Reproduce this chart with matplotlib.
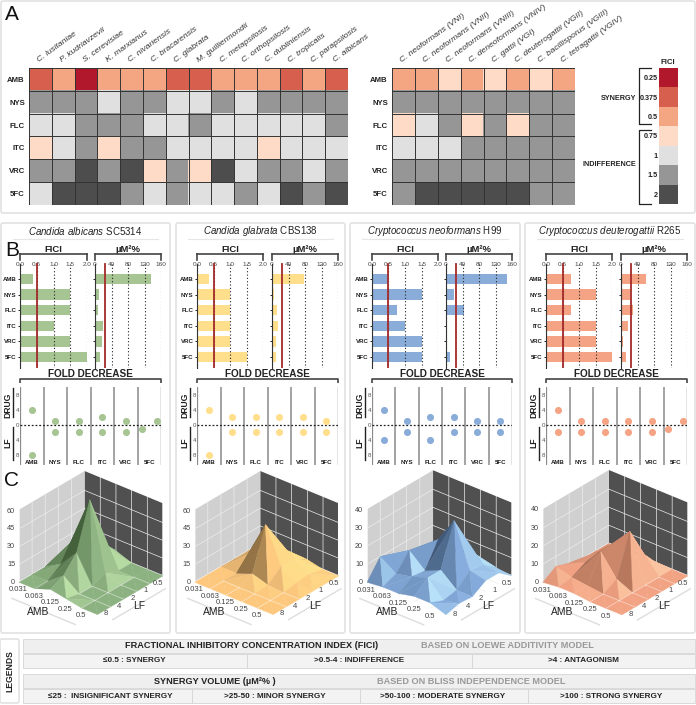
import numpy as np
import matplotlib
matplotlib.use("Agg")
import matplotlib.pyplot as plt
import matplotlib.tri as mtri
from matplotlib.colors import to_rgb
from matplotlib.patches import FancyBboxPatch, Rectangle
from mpl_toolkits.mplot3d import proj3d

plt.rcParams['font.family'] = ['Liberation Sans', 'DejaVu Sans']
plt.rcParams['mathtext.fontset'] = 'custom'
plt.rcParams['mathtext.rm'] = 'Liberation Sans'
plt.rcParams['mathtext.it'] = 'Liberation Sans:italic'
plt.rcParams['mathtext.bf'] = 'Liberation Sans:bold'

W, H = 696, 705

drugs = ['AMB', 'NYS', 'FLC', 'ITC', 'VRC', '5FC']

# panel A
species_left = ['C. lusitaniae', 'P. kudriavzevii', 'S. cerevisiae', 'K. marxianus', 'C. nivariensis',
                'C. bracarensis', 'C. glabrata', 'M. guilliermondii', 'C. metapsilosis', 'C. orthopsilosis',
                'C. dubliniensis', 'C. tropicalis', 'C. parapsilosis', 'C. albicans']
species_right = ['C. neoformans (VNI)', 'C. neoformans (VNII)', 'C. neoformans (VNIII)', 'C. deneoformans (VNIV)',
                 'C. gattii (VGI)', 'C. deuterogattii (VGII)', 'C. bacillisporus (VGIII)', 'C. tetragattii (VGIV)']
heat_left = [
    [.375, .5, .25, .5, .5, .5, .375, .375, .5, .5, .5, .375, .5, .375],
    [1.5, 1.5, 1.5, 1, 1.5, 1.5, 1, 1, 1.5, 1, 1.5, 1.5, 1.5, 1.5],
    [1, 1, 1.5, 1.5, 1.5, 1, 1, 1.5, 1, 1, 1, 1, 1, 1.5],
    [.75, 1, 1.5, .75, 1.5, 1.5, 1, 1, 1, 1, .75, 1, 1, 1],
    [1.5, 1.5, 2, 1.5, 2, .75, 1.5, .75, 2, 1, 1.5, 1.5, 1, 1.5],
    [1, 2, 2, 2, 1.5, 1, 1.5, 1, 1, 1.5, 1, 2, 1.5, 2],
]
heat_right = [
    [.5, .5, .75, .5, .75, .5, .75, .5],
    [1.5, 1.5, 1.5, 1.5, 1.5, 1.5, 1.5, 1.5],
    [.75, 1, 1.5, .75, 1.5, .75, 1.5, 1.5],
    [1, 1, 1, 1.5, 1.5, 1.5, 1.5, 1.5],
    [1.5, 1.5, 1.5, 1.5, 1.5, 1.5, 1.5, 1.5],
    [1.5, 2, 2, 2, 2, 2, 1.5, 1.5],
]
fici_levels = [.25, .375, .5, .75, 1, 1.5, 2]
fici_colors = ['#B2182B', '#D6604D', '#F4A582', '#FDDBC7', '#E0E0E0', '#969696', '#4D4D4D']

# panel B
titles = [r'$\it{Candida\ albicans}$ SC5314', r'$\it{Candida\ glabrata}$ CBS138',
          r'$\it{Cryptococcus\ neoformans}$ H99', r'$\it{Cryptococcus\ deuterogattii}$ R265']
fici_vals = [[.375, 1.5, 1.5, 1, 1.5, 2],
             [.375, 1, 1, 1, 1, 1.5],
             [.5, 1.5, .75, 1, 1.5, 1.5],
             [.75, 1.5, .75, 1.5, 1.5, 2]]
um_vals = [[135, 9, 7, 19, 18, 13],
           [78, 4, 13, 15, 9, 9],
           [149, 19, 44, 2, 1, 9],
           [61, 22, 29, 18, 5, 13]]
drug_fold = [[4, 1, 1, 2, 1, 1],
             [4, 2, 2, 2, 2, 1],
             [4, 1, 2, 2, 1, 1],
             [4, 1, 1, 1, 1, 1]]
lf_fold = [[8, 2, 2, 2, 2, 1],
           [8, 2, 2, 2, 2, 2],
           [4, 2, 4, 2, 2, 2],
           [2, 2, 2, 2, 2, 1]]
bar_colors = ['#A6C592', '#FFDE8C', '#8AACD8', '#F4A484']

# panel C, rows are LF steps (back to front), columns AMB steps
surf_green = [[0, 0, 5, 0, 0, 0],
              [0, 8, 18, 0, 0, 0],
              [0, 22, 61, 5, 0, 0],
              [0, 8, 23, 0, 0, 0],
              [0, 0, 10, 0, 0, 0],
              [0, 0, 5, 2.5, 0, 0]]
surf_yellow = [[0, 0, 3, 3, 0, 0],
               [0, 10, 15, 10, 3, 0],
               [0, 10, 40, 10, 2, 0],
               [0, 0, 5, 1, 0, 0],
               [0, 0, 0, 0, 0, 0],
               [0, 0, 0, 0, 0, 0]]
surf_blue = [[0, 2, 3, 3, 1, 0],
             [0, 7, 15, 12, 7, 6],
             [4, 6, 18, 32, 8, 6],
             [6, 12.7, 5, 9, 1.5, 1.5],
             [10, 4, 6, 9, 0, 2],
             [0, 1, 1, 3, 3, 0]]
surf_salmon = [[0, 0, 2, 0, 0, 0],
               [0, 5, 12, 8, 0, 0],
               [0, 7.6, 16, 26, 0, 0],
               [2, 5.8, 15.6, 4, 0, 0],
               [4.5, 2, 1, 0, 0, 0],
               [0, 1, 1, 0, 0, 0]]
surfaces = [surf_green, surf_yellow, surf_blue, surf_salmon]
z_ticks = [[0, 15, 30, 45, 60], [0, 15, 30, 45, 60], [0, 10, 20, 30, 40], [0, 10, 20, 30, 40]]
z_tops = [62, 62, 41, 41]
surf_cols = [('#3E5A36', '#8DB281', '#C9EEB2'),
             ('#6B5230', '#FDC87E', '#FFE98F'),
             ('#3A5270', '#86ADDE', '#C4EFFF'),
             ('#7A4A35', '#F2A383', '#FFD2AC')]
amb_labels = ['0.031', '0.063', '0.125', '0.25', '0.5']
lf_labels = ['0.5', '1', '2', '4', '8']

fig = plt.figure(figsize=(W / 100, H / 100), dpi=100)
bg = fig.add_axes([0, 0, 1, 1], zorder=-5)
bg.set_xlim(0, W)
bg.set_ylim(H, 0)
bg.axis('off')


def px_axes(x0, y0, x1, y1, **kw):
    return fig.add_axes([x0 / W, 1 - y1 / H, (x1 - x0) / W, (y1 - y0) / H], **kw)


def frame(x0, y0, x1, y1):
    bg.add_patch(FancyBboxPatch((x0 + 2, y0 + 2), x1 - x0 - 4, y1 - y0 - 4, boxstyle='round,pad=2',
                                fc='white', ec='#E2E2E2', lw=1.2))


def bracket(x0, x1, y, drop=4, col='#444444', lw=1.2):
    bg.plot([x0, x0, x1, x1], [y + drop, y, y, y + drop], color=col, lw=lw, solid_capstyle='butt')


def heat(values, names, x0, y0, x1, y1):
    ax = px_axes(x0, y0, x1, y1)
    vals = np.array(values)
    idx = np.searchsorted(fici_levels, vals)
    rgb = np.array([to_rgb(fici_colors[k]) for k in idx.ravel()]).reshape(vals.shape + (3,))
    ax.imshow(rgb, aspect='auto', interpolation='nearest')
    for k in range(vals.shape[1] + 1):
        ax.axvline(k - .5, color='#333333', lw=.7)
    for k in range(vals.shape[0] + 1):
        ax.axhline(k - .5, color='#333333', lw=.7)
    ax.set_xticks(range(len(names)))
    ax.set_xticklabels(names, rotation=36, ha='left', va='bottom', rotation_mode='anchor',
                       style='italic', fontsize=6.1, color='#333333')
    ax.set_yticks(range(6))
    ax.set_yticklabels(drugs, fontsize=5.6, fontweight='bold', color='#222222')
    ax.xaxis.tick_top()
    ax.tick_params(length=0, pad=3)
    for s in ax.spines.values():
        s.set_visible(False)


def bar_panel(vals, x0, x1, xmax, ticks, ticklabels, ref, col, label_rows, head):
    ax = px_axes(x0, 254, x1, 368)
    ax.barh(range(6), vals, height=.66, color=col)
    ax.set_xlim(0, xmax)
    ax.set_ylim(5.7, -1.6)
    ax.vlines(ticks, -.95, 5.7, color='#222222', lw=.8, linestyles=(0, (1, 2)))
    ax.plot([ref, ref], [-.95, 5.7], color='#A52A2A', lw=1.3)
    ax.plot([0, 0], [-1.6, -1.2], color='#444444', lw=1.2, clip_on=False)
    ax.plot([xmax, xmax], [-1.6, -1.2], color='#444444', lw=1.2, clip_on=False)
    ax.set_xticks(ticks)
    ax.set_xticklabels(ticklabels, fontsize=4.6, color='#444444')
    ax.xaxis.tick_top()
    ax.tick_params(axis='x', length=0, pad=-9.5)
    ax.set_yticks(range(6))
    if label_rows:
        ax.set_yticklabels(drugs, fontsize=4.4, fontweight='bold', color='#222222')
    else:
        ax.set_yticklabels([])
    ax.tick_params(axis='y', length=1.5, width=.6, pad=1)
    for k in ['right', 'bottom']:
        ax.spines[k].set_visible(False)
    ax.spines['top'].set_color('#444444')
    ax.spines['top'].set_linewidth(1.2)
    ax.spines['left'].set_bounds(5.7, -.95)
    ax.spines['left'].set_color('#333333')
    ax.spines['left'].set_linewidth(.8)
    ax.patch.set_alpha(0)
    bg.text((x0 + x1) / 2, 249, head, ha='center', va='center', fontsize=6.8, fontweight='bold', color='#222222')


def dot_panel(up, down, x0, x1, col, dodge):
    ax = px_axes(x0, 387, x1, 465)
    ax.set_xlim(0, 6)
    ax.set_ylim(-10.7, 10.1)
    for k in range(1, 6):
        ax.axvline(k, color='#8A8A8A', lw=1.1)
    ax.axvline(0, color='#8A8A8A', lw=.9)
    ax.axvline(6, color='#333333', lw=.9)
    ax.axhline(0, color='#222222', lw=.9, ls=(0, (1.5, 1.5)))
    xs = np.arange(6) + .5
    xu = xs.copy()
    xd = xs.copy()
    if dodge:
        xu[5] += dodge
        xd[5] -= dodge
    ax.scatter(xu, up, s=26, color=col, zorder=3, linewidths=0)
    ax.scatter(xd, -np.array(down), s=26, color=col, zorder=3, linewidths=0)
    ax.set_yticks([8, 4, 0, -4, -8])
    ax.set_yticklabels(['8', '4', '0', '4', '8'], fontsize=4.4, color='#555555')
    ax.tick_params(axis='y', length=0, pad=.8)
    ax.set_xticks([])
    for k, d in enumerate(drugs):
        ax.text(k + .5, -10, d, ha='center', va='center', fontsize=4.4, fontweight='bold', color='#222222',
                bbox=dict(fc='white', ec='none', pad=.4))
    for s in ax.spines.values():
        s.set_visible(False)
    ax.patch.set_alpha(0)
    bg.plot([x0 - 7, x0 - 7], [388, 417], color='#222222', lw=1)
    bg.plot([x0 - 7, x0 - 7], [427, 460], color='#222222', lw=1)
    bg.text(x0 - 12, 405, 'DRUG', rotation=90, ha='center', va='center', fontsize=6.2, fontweight='bold', color='#222222')
    bg.text(x0 - 12, 443, 'LF', rotation=90, ha='center', va='center', fontsize=6.2, fontweight='bold', color='#222222')
    bracket(x0, x1, 379)
    bg.text((x0 + x1) / 2, 374, 'FOLD DECREASE', ha='center', va='center', fontsize=7.2, fontweight='bold', color='#222222')


def surface_panel(z, ztick, ztop, cols, xl, xb, xr):
    z = np.array(z, dtype=float)
    ax = fig.add_axes([xl / W, 1 - 640 / H, 160 / W, 160 / H], projection='3d', proj_type='ortho', zorder=2)
    ax.view_init(elev=29.5, azim=39.9)
    ax.set_box_aspect((103, 103, 85))
    ax.set_xlim(0, 5, view_margin=0)
    ax.set_ylim(0, 5, view_margin=0)
    ax.set_zlim(0, ztop, view_margin=0)
    ax.patch.set_alpha(0)
    ax.computed_zorder = False

    ii, jj = np.meshgrid(np.arange(6), np.arange(6), indexing='ij')
    zz = z.ravel()
    tris = []
    for i in range(5):
        for j in range(5):
            a, b, c, d = i * 6 + j, (i + 1) * 6 + j, (i + 1) * 6 + j + 1, i * 6 + j + 1
            # split each cell along its higher diagonal, as the ridges do
            if zz[a] + zz[c] >= zz[b] + zz[d]:
                tris += [[a, b, c], [a, c, d]]
            else:
                tris += [[a, b, d], [b, c, d]]
    tri = mtri.Triangulation(ii.ravel().astype(float), jj.ravel().astype(float), np.array(tris))
    surf = ax.plot_trisurf(tri, zz, color=cols[1], shade=False, linewidth=.25, antialiased=True, zorder=1)

    # facet colours from the facet direction
    p = np.c_[ii.ravel() * 103 / 5, jj.ravel() * 103 / 5, zz * 85 / ztop]
    tt = tri.get_masked_triangles()
    n = np.cross(p[tt[:, 1]] - p[tt[:, 0]], p[tt[:, 2]] - p[tt[:, 0]])
    n = n / np.linalg.norm(n, axis=1)[:, None]
    n = n * np.sign(n[:, 2])[:, None]
    light = np.array([-.35, .6, .72])
    light = light / np.linalg.norm(light)
    s = n @ light - light[2]
    t = np.where(s > 0, np.tanh(s * 4), -np.clip(-s / 1.04, 0, 1) ** 1.5)
    dark, base, lit = [np.array(to_rgb(c)) for c in cols]
    fc = np.where(t[:, None] < 0, base + (dark - base) * -t[:, None], base + (lit - base) * t[:, None])
    surf.set_facecolor(fc)
    surf.set_edgecolor(fc)

    # panes
    ax.xaxis.set_pane_color('#505050')
    ax.yaxis.set_pane_color('#D0D0D0')
    ax.zaxis.set_pane_color((1, 1, 1, 0))
    for a in [ax.xaxis, ax.yaxis, ax.zaxis]:
        a.pane.set_edgecolor((1, 1, 1, 0))
        a.line.set_color((1, 1, 1, 0))
        a._axinfo['grid']['color'] = '#EDEDED'
        a._axinfo['grid']['linewidth'] = .5
        a._axinfo['tick']['inward_factor'] = 0
        a._axinfo['tick']['outward_factor'] = 0
    ax.set_xticks(range(1, 5))
    ax.set_yticks(range(1, 5))
    ax.set_zticks(ztick[1:-1])
    ax.set_xticklabels([])
    ax.set_yticklabels([])
    ax.set_zticklabels([])

    # thin floor lines on the flat part of the surface
    for i in range(6):
        for j in range(6):
            if i < 5 and z[i, j] == 0 and z[i + 1, j] == 0 and i + j >= 5 and 0 < j < 5:
                ax.plot([i, i + 1], [j, j], [0, 0], color='white', alpha=.45, lw=.6, zorder=2)
            if j < 5 and z[i, j] == 0 and z[i, j + 1] == 0 and i + j >= 5 and 0 < i < 5:
                ax.plot([i, i], [j, j + 1], [0, 0], color='white', alpha=.45, lw=.6, zorder=2)

    # rails
    ax.plot([6.45, 6.45], [.76, 4.8], [0, 0], color='#DDDDDD', lw=1, clip_on=False, zorder=2)
    ax.plot([.9, 4.9], [5.9, 5.9], [0, 0], color='#DDDDDD', lw=1, clip_on=False, zorder=2)

    # fit the box onto the pixel corners
    def corners():
        ax.apply_aspect()
        out = []
        for q in [(5, 0, 0), (0, 0, 0), (0, 5, 0)]:
            u, v, _ = proj3d.proj_transform(*q, ax.get_proj())
            out.append(ax.transData.transform((u, v)))
        return out
    c = corners()
    size = 160 * (xr - xl) / (c[2][0] - c[0][0])
    ax.set_position([xl / W, 1 - 640 / H, size / W, size / H])
    c = corners()
    pos = ax.get_position().frozen()
    ax.set_position([pos.x0 + (xl - c[0][0]) / W, pos.y0 + ((H - 582.3) - c[0][1]) / H, pos.width, pos.height])
    ax.apply_aspect()

    # labels placed by projecting their spot on the box
    def label(x, y, zv, s, **kw):
        u, v, _ = proj3d.proj_transform(x, y, zv, ax.get_proj())
        px, py = ax.transData.transform((u, v))
        fig.text(px / W, py / H, s, va='center', zorder=6, **kw)

    for k, s in enumerate(amb_labels):
        label(5.6, k + .47, 0, s, ha='center', fontsize=5.5, color='#444444')
    for k, s in enumerate(lf_labels):
        label(k + .68, 5.28, 0, s, ha='center', fontsize=5.5, color='#444444')
    for v in ztick:
        label(5.3, 0, v + .032 * ztop, str(v), ha='right', fontsize=5.2, color='#444444')
    label(6.66, 2.64, 0, 'AMB', ha='center', fontsize=7.4, color='#222222')
    label(3.02, 6.03, 0, 'LF', ha='center', fontsize=7.4, color='#222222')


# frames
frame(1, 1, 695, 213)
for x0, x1 in [(1, 170), (176, 345), (350, 520), (525, 695)]:
    frame(x0, 223, x1, 633)

bg.text(5, 14, 'A', fontsize=15, va='center', color='#111111')
bg.text(5, 250, 'B', fontsize=15, va='center', color='#111111', zorder=6)
bg.text(4, 481, 'C', fontsize=15, va='center', color='#111111', zorder=6)

# panel A
heat(heat_left, species_left, 29, 68, 348, 205)
heat(heat_right, species_right, 392, 68, 575, 205)
ax_leg = px_axes(659, 68, 678, 204)
ax_leg.imshow(np.array([[to_rgb(c)] for c in fici_colors]), aspect='auto', interpolation='nearest')
ax_leg.set_xticks([])
ax_leg.set_yticks(range(7))
ax_leg.set_yticklabels([str(v) for v in fici_levels], fontsize=5.2, fontweight='bold', color='#222222')
ax_leg.tick_params(length=0, pad=.8)
for s in ax_leg.spines.values():
    s.set_visible(False)
bg.text(668, 62, 'FICI', ha='center', va='center', fontsize=5.6, fontweight='bold', color='#222222')
bg.plot([651, 639, 639, 651], [68, 68, 124, 124], color='#222222', lw=.9)
bg.plot([651, 639, 639, 651], [130, 130, 204, 204], color='#222222', lw=.9)
bg.text(636, 98, 'SYNERGY', ha='right', va='center', fontsize=5.2, fontweight='bold', color='#222222')
bg.text(636, 165, 'INDIFFERENCE', ha='right', va='center', fontsize=5.2, fontweight='bold', color='#222222')

# panels B and C
fici_x = [(20, 87), (197, 263), (372, 438), (546, 612)]
um_x = [(95, 161), (272, 338), (446, 512), (621, 687)]
corner_x = [(19, 84, 163), (194.7, 259.7, 338.7), (367, 433, 512), (542.7, 608.7, 688)]
for p in range(4):
    pleft, pright = [(1, 170), (176, 345), (350, 520), (525, 695)][p]
    bg.text((pleft + pright) / 2, 231, titles[p], ha='center', va='center', fontsize=7, color='#222222')
    bg.plot([pleft + 12, pright - 12], [238.5, 238.5], color='#E6E6E6', lw=.8)
    bar_panel(fici_vals[p], *fici_x[p], 2, [0, .5, 1, 1.5, 2], ['0.0', '0.5', '1.0', '1.5', '2.0'], .5,
              bar_colors[p], True, 'FICI')
    bar_panel(um_vals[p], *um_x[p], 160, [0, 40, 80, 120, 160], ['0', '40', '80', '120', '160'], 25,
              bar_colors[p], False, 'µM²%')
    dot_panel(drug_fold[p], lf_fold[p], fici_x[p][0], um_x[p][1], bar_colors[p], .32 if p in (0, 3) else 0)
    surface_panel(surfaces[p], z_ticks[p], z_tops[p], surf_cols[p], *corner_x[p])

# legends
frame(0, 639, 19, 703)
bg.text(9.5, 671, 'LEGENDS', rotation=90, ha='center', va='center', fontsize=6.2, fontweight='bold', color='#222222')


def legend_rows(y0, y1, y2, y3, edges, head, head_x, note, note_x, cells, cell_x):
    bg.add_patch(Rectangle((23, y0), 672, y1 - y0, fc='#EFEFEF', ec='#D5D5D5', lw=.6))
    for a, b in zip(edges[:-1], edges[1:]):
        bg.add_patch(Rectangle((a, y2), b - a, y3 - y2, fc='#F3F3F3', ec='#D5D5D5', lw=.6))
    bg.text(head_x, (y0 + y1) / 2, head, ha='center', va='center', fontsize=6.6, fontweight='bold', color='#222222')
    bg.text(note_x, (y0 + y1) / 2, note, ha='center', va='center', fontsize=6.6, fontweight='bold', color='#999999')
    for s, x in zip(cells, cell_x):
        bg.text(x, (y2 + y3) / 2, s, ha='center', va='center', fontsize=5.9, fontweight='bold', color='#222222')


legend_rows(639, 653, 654, 668, [23, 247, 472, 695],
            'FRACTIONAL INHIBITORY CONCENTRATION INDEX (FICI)', 252,
            'BASED ON LOEWE ADDITIVITY MODEL', 507,
            ['≤0.5 : SYNERGY', '>0.5-4 : INDIFFERENCE', '>4 : ANTAGONISM'], [134, 359, 583])
legend_rows(674, 688, 689, 703, [23, 192, 360, 528, 695],
            'SYNERGY VOLUME (µM²% )', 215,
            'BASED ON BLISS INDEPENDENCE MODEL', 471,
            ['≤25 :  INSIGNIFICANT SYNERGY', '>25-50 : MINOR SYNERGY', '>50-100 : MODERATE SYNERGY', '>100 : STRONG SYNERGY'],
            [110, 275, 443, 611])

fig.savefig('out.png', dpi=100)
